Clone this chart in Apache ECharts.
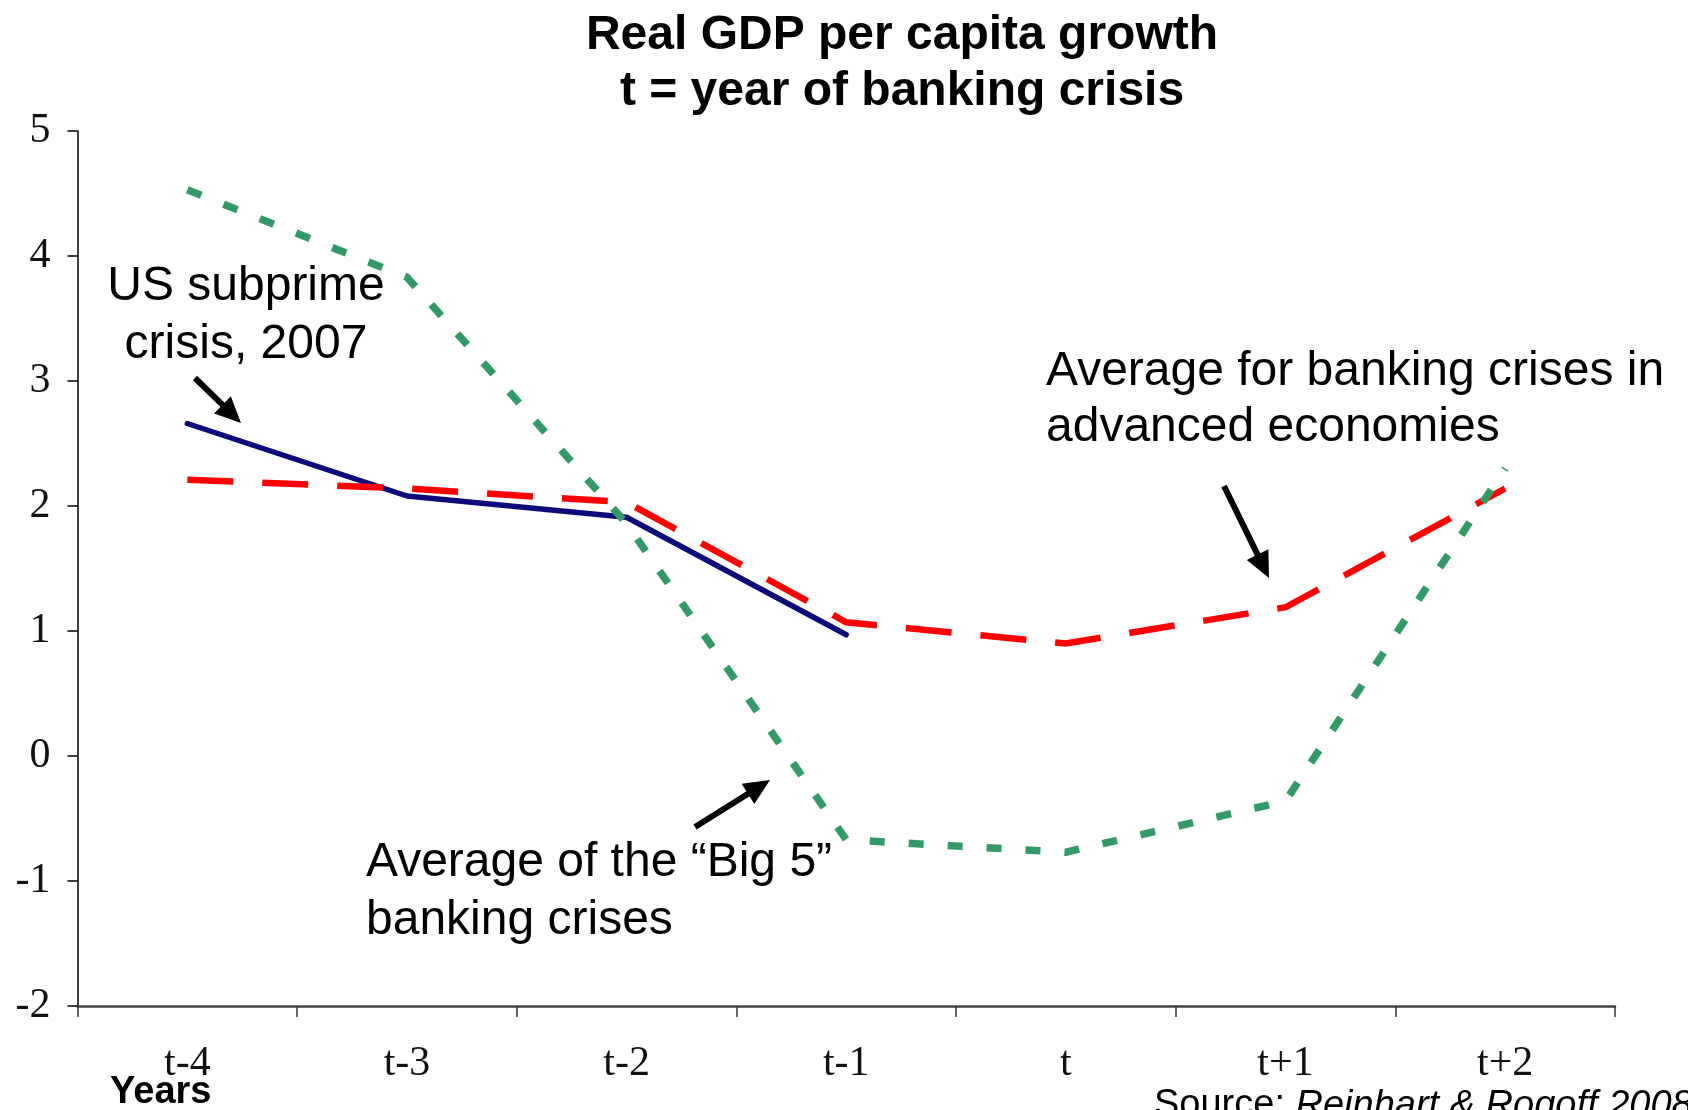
<!DOCTYPE html>
<html>
<head>
<meta charset="utf-8">
<script src="https://cdn.jsdelivr.net/npm/echarts@6/dist/echarts.min.js"></script>
<style>
html,body{margin:0;padding:0;background:#fff;}
#chart{width:1688px;height:1110px;}
</style>
</head>
<body>
<div id="chart"></div>
<script>
var categories = ['t-4', 't-3', 't-2', 't-1', 't', 't+1', 't+2'];
var usSubprime = [2.66, 2.08, 1.91, 0.97, null, null, null];
var advancedAvg = [2.21, 2.14, 2.03, 1.07, 0.90, 1.19, 2.14];
var big5Avg = [4.53, 3.83, 1.86, -0.67, -0.77, -0.36, 2.30];
var yTicks = { min: -2, max: 5, interval: 1 };

function arrow(x1, y1, x2, y2) {
  var dx = x2 - x1, dy = y2 - y1;
  var len = Math.sqrt(dx * dx + dy * dy);
  var ux = dx / len, uy = dy / len;
  var headLen = 26, headHalf = 12;
  var bx = x2 - ux * headLen, by = y2 - uy * headLen;
  var px = -uy, py = ux;
  return [
    { type: 'line', shape: { x1: x1, y1: y1, x2: bx + ux * 2, y2: by + uy * 2 },
      style: { stroke: '#000', lineWidth: 6 }, z: 100 },
    { type: 'polygon', shape: { points: [[x2, y2], [bx + px * headHalf, by + py * headHalf], [bx - px * headHalf, by - py * headHalf]] },
      style: { fill: '#000' }, z: 100 }
  ];
}

var annoFont = 'Liberation Sans, Arial, sans-serif';
var serifFont = 'Liberation Serif, Times New Roman, serif';
var graphics = [].concat(
  arrow(195, 378, 241, 423),
  arrow(1224, 486, 1269, 578),
  arrow(695, 827, 770, 780),
  [
    { type: 'text', x: 246, y: 258, z: 100,
      style: { text: 'US subprime\ncrisis, 2007', fill: '#000', fontSize: 48, fontFamily: annoFont,
        lineHeight: 58, align: 'center', verticalAlign: 'top' } },
    { type: 'text', x: 1046, y: 344, z: 100,
      style: { text: 'Average for banking crises in\nadvanced economies', fill: '#000', fontSize: 48, fontFamily: annoFont,
        lineHeight: 56, align: 'left', verticalAlign: 'top' } },
    { type: 'text', x: 366, y: 834, z: 100,
      style: { text: 'Average of the \u201cBig 5\u201d\nbanking crises', fill: '#000', fontSize: 48, fontFamily: annoFont,
        lineHeight: 58, align: 'left', verticalAlign: 'top' } },
    { type: 'text', x: 110, y: 1093, z: 100,
      style: { text: 'Years', fill: '#000', fontSize: 38, fontWeight: 'bold', fontFamily: annoFont,
        align: 'left', verticalAlign: 'middle' } },
    { type: 'text', x: 1154, y: 1106, z: 100,
      style: { text: '{a|Source: }{b|Reinhart & Rogoff 2008}', fill: '#000', fontSize: 38, fontFamily: annoFont,
        align: 'left', verticalAlign: 'middle',
        rich: { a: { fontSize: 38, fontFamily: annoFont, fill: '#000' },
                b: { fontSize: 38, fontFamily: annoFont, fontStyle: 'italic', fill: '#000' } } } }
  ]
);

var chart = echarts.init(document.getElementById('chart'), null, { renderer: 'canvas' });
chart.setOption({
  backgroundColor: '#ffffff',
  animation: false,
  title: {
    text: 'Real GDP per capita growth\nt = year of banking crisis',
    left: 897, top: 3, textAlign: 'center',
    textStyle: { fontFamily: annoFont, fontWeight: 'bold', fontSize: 48, lineHeight: 56, color: '#000' }
  },
  grid: { left: 77.5, right: 73, top: 131, bottom: 104 },
  xAxis: {
    type: 'category',
    data: categories,
    boundaryGap: true,
    axisLine: { show: true, onZero: false, lineStyle: { color: '#444', width: 2.5 } },
    axisTick: { show: true, length: 11, lineStyle: { color: '#333', width: 1.5 } },
    axisLabel: { margin: 37, fontFamily: serifFont, fontSize: 42, color: '#111' },
    splitLine: { show: false }
  },
  yAxis: {
    type: 'value',
    min: yTicks.min, max: yTicks.max, interval: yTicks.interval,
    axisLine: { show: true, lineStyle: { color: '#000', width: 1.5 } },
    axisTick: { show: true, length: 10, lineStyle: { color: '#000', width: 1.5 } },
    axisLabel: { margin: 27, fontFamily: serifFont, fontSize: 42, color: '#111' },
    splitLine: { show: false }
  },
  series: [
    { name: 'US subprime crisis, 2007', type: 'line', data: usSubprime, symbol: 'none', z: 3,
      lineStyle: { color: '#0b0b7a', width: 5.5, join: 'round', cap: 'round' } },
    { name: 'Average for banking crises in advanced economies', type: 'line', data: advancedAvg, symbol: 'none', z: 4,
      lineStyle: { color: '#ff0000', width: 6.5, type: [46, 29], cap: 'butt', join: 'miter' } },
    { name: 'Average of the Big 5 banking crises', type: 'line', data: big5Avg, symbol: 'none', z: 5,
      lineStyle: { color: '#339966', width: 7.5, type: [15, 24], cap: 'butt', join: 'miter' } }
  ],
  graphic: graphics
});
</script>
</body>
</html>
